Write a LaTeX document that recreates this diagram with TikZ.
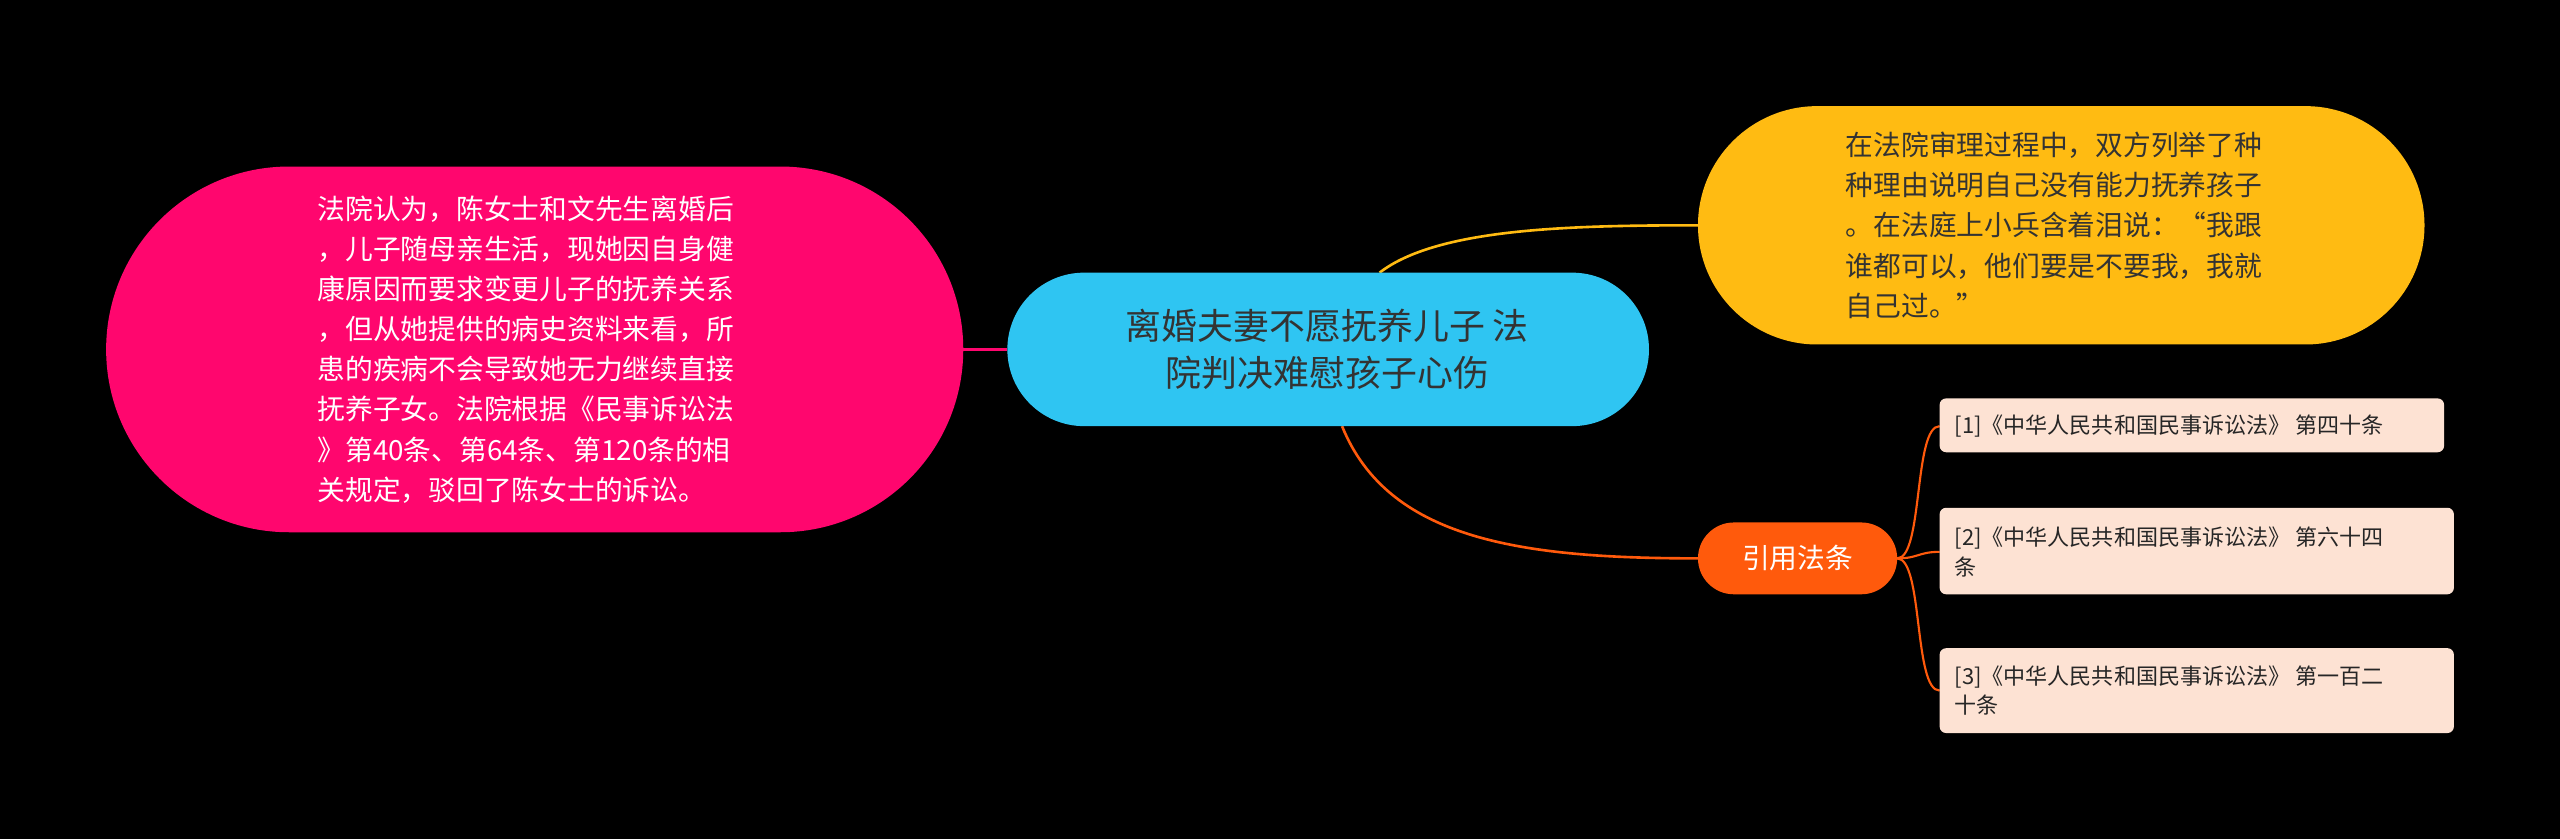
\documentclass[tikz,border=0pt]{standalone}
\usepackage{fontspec}
\setmainfont{Noto Sans CJK SC}
\begin{document}
\begin{tikzpicture}[x=1pt,y=-1pt,
 pill/.style={rounded corners=#1, inner sep=0pt},
 law/.style={fill=lawfill, rounded corners=4pt, anchor=west, align=left, font=\fontsize{13.5}{18}\selectfont, text=black!85, inner sep=0pt},
 conn/.style={line width=1.6pt}]
\definecolor{cyanc}{HTML}{2FC5F2}
\definecolor{pinkc}{HTML}{FF066E}
\definecolor{yelc}{HTML}{FFBB12}
\definecolor{orc}{HTML}{FF5A0C}
\definecolor{lawfill}{HTML}{FDE2D3}
\fill[black] (0,0) rectangle (1568,514);
\useasboundingbox (0,0) rectangle (1568,514);
% connectors
\coordinate (cl) at (617,214);
\coordinate (pr) at (590,214);
\draw[conn,pinkc] (cl) -- (pr);
\coordinate (ct) at (845,167);
\coordinate (yl) at (1040,138);
\draw[conn,yelc] (ct) .. controls (880,140) and (960,138) .. (yl);
\coordinate (cb) at (822,261);
\coordinate (ol) at (1040,342);
\draw[conn,orc] (cb) .. controls (850,330) and (930,342) .. (ol);
\coordinate (orr) at (1162,342);
\coordinate (b1) at (1188,261);
\coordinate (b2) at (1188,338);
\coordinate (b3) at (1188,423);
\draw[conn,orc,line width=1.3pt] (orr) .. controls (1178,342) and (1172,261) .. (b1);
\draw[conn,orc,line width=1.3pt] (orr) .. controls (1175,342) and (1175,338) .. (b2);
\draw[conn,orc,line width=1.3pt] (orr) .. controls (1178,342) and (1172,423) .. (b3);
% nodes
\fill[cyanc,rounded corners=47pt] (617,167) rectangle (1010,261);
\node[align=center,font=\fontsize{22}{29}\selectfont,text=black!80] (center) at (813,214) {离婚夫妻不愿抚养儿子 法\\院判决难慰孩子心伤};
\fill[pinkc,rounded corners=112pt] (65,102) rectangle (590,326);
\node[align=left,font=\fontsize{17}{24.6}\selectfont,text=white] (pink) at (322,214) {法院认为，陈女士和文先生离婚后\\，儿子随母亲生活，现她因自身健\\康原因而要求变更儿子的抚养关系\\，但从她提供的病史资料来看，所\\患的疾病不会导致她无力继续直接\\抚养子女。法院根据《民事诉讼法\\》第40条、第64条、第120条的相\\关规定，驳回了陈女士的诉讼。};
\fill[yelc,rounded corners=73pt] (1040,65) rectangle (1485,211);
\node[align=left,font=\fontsize{17}{24.6}\selectfont,text=black!80] (yel) at (1258,138) {在法院审理过程中，双方列举了种\\种理由说明自己没有能力抚养孩子\\。在法庭上小兵含着泪说：“我跟\\谁都可以，他们要是不要我，我就\\自己过。”};
\fill[orc,rounded corners=22pt] (1040,320) rectangle (1162,364);
\node[font=\fontsize{17}{20}\selectfont,text=white] (cite) at (1101,342) {引用法条};
\fill[lawfill,rounded corners=4pt] (1188,244) rectangle (1497,277);
\node[law] (l1) at (1197,261) {[1]《中华人民共和国民事诉讼法》 第四十条};
\fill[lawfill,rounded corners=4pt] (1188,311) rectangle (1503,364);
\node[law] (l2) at (1197,338) {[2]《中华人民共和国民事诉讼法》 第六十四\\条};
\fill[lawfill,rounded corners=4pt] (1188,397) rectangle (1503,449);
\node[law] (l3) at (1197,423) {[3]《中华人民共和国民事诉讼法》 第一百二\\十条};
\end{tikzpicture}
\end{document}
